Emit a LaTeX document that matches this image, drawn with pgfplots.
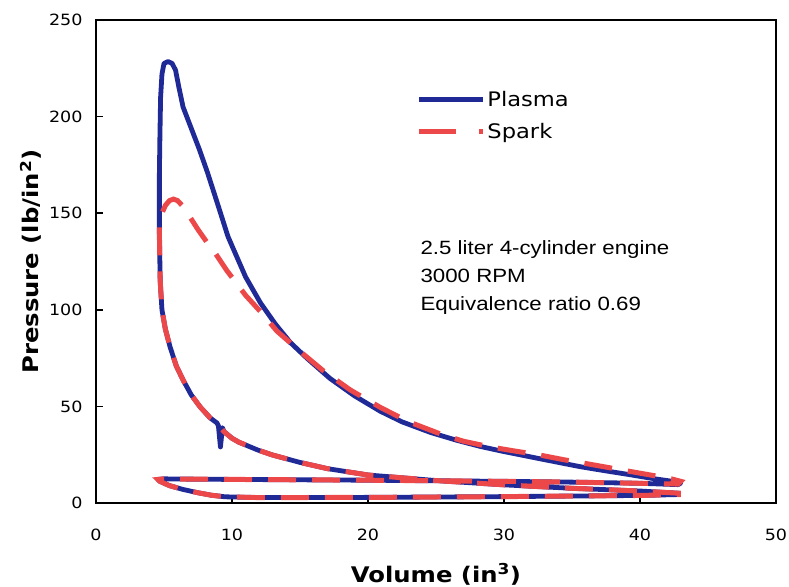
\documentclass[border=0pt]{standalone}
\usepackage{fontspec}
\setmainfont{DejaVu Sans}[FakeStretch=1.13]
\newfontfamily\arialf{Liberation Sans}[FakeStretch=1.16]
\usepackage{pgfplots}
\pgfplotsset{compat=1.18}
\usetikzlibrary{calc}
\definecolor{plasmablue}{RGB}{32,42,150}
\definecolor{sparkred}{RGB}{236,72,74}
\begin{document}
\begin{tikzpicture}
\begin{axis}[
  name=ax,
  scale only axis,
  width=680pt, height=483pt,
  xmin=0, xmax=50, ymin=0, ymax=250,
  xtick={0,10,...,50}, ytick={0,50,...,250},
  tick pos=left, tick align=inside,
  major tick length=7pt,
  axis line style={line width=2.6pt, black},
  every tick/.style={line width=1.6pt, black},
  /pgf/number format/assume math mode=true,
  ticklabel style={font=\fontsize{15.5}{15.5}\selectfont},
  xticklabel style={yshift=-22pt},
  yticklabel style={xshift=-10pt},
  xlabel={\textbf{Volume (in\textsuperscript{3})}},
  ylabel={\textbf{Pressure (lb/in\textsuperscript{2})}},
  label style={font=\fontsize{21.5}{23}\selectfont},
  xlabel style={at={(axis description cs:0.5,-0.1636)}, anchor=base},
  ylabel style={at={(axis description cs:-0.084,0.5)}, anchor=base, rotate=0},
  legend image code/.code={\draw[#1] (0pt,0pt) -- (64pt,0pt);},
  legend style={at={(axis description cs:0.468,0.862)}, anchor=north west,
    draw=none, fill=none, font=\fontsize{20}{22}\selectfont,
    row sep=12pt, inner sep=2pt},
  legend cell align=left,
]
\addplot[plasmablue, line width=4.8pt, line join=round, forget plot] coordinates {
(43.0,5.0) (40,6.2) (35,7.6) (30,9.4) (25,11.6) (20,14.5) (17,17.8) (15,21)
(13,24.8) (11.9,27.4) (10.5,31.5) (10,33.5) (9.4,37) (9.3,39) (9.15,29) (9.0,40)
(8.9,41.4) (8.4,44) (7.66,49.7) (7,56) (6.4,63.7) (5.9,71) (5.45,80.7) (5.1,90)
(4.85,100) (4.72,115) (4.66,140) (4.66,170) (4.7,190) (4.75,210) (4.85,222)
(5.0,227.5) (5.3,228.5) (5.6,227.5) (5.85,224) (6.1,215) (6.4,205) (7.0,194)
(7.6,183) (8.2,171) (9.0,153.5) (9.7,138) (10.1,131.5) (11,117) (12.1,103.5)
(13.2,92.5) (14.3,83) (15.5,75) (17.2,64.5) (19,55.5) (20.9,47.5) (22.5,42)
(24.6,36.5) (26.5,32.5) (28.3,29.2) (30,26.6) (32,23.8) (34,21) (35.6,18.8)
(37.5,16.6) (39.3,14.6) (41,12.6) (42.4,11.2) (43,10.3) (42.8,9.5) (40,10.2)
(35,10.8) (30,11.2) (25,11.5) (20,11.8) (15,12) (10,12.2) (6,12.4) (5,12.5)
(4.55,12.2) (4.7,11.2) (5.4,9) (6.4,7) (7.5,5.3) (8.5,4) (9.5,3.2) (12,2.8)
(20,2.9) (30,3.3) (40,3.9) (43,4.4)
};
\addplot[sparkred, line width=5pt, dash pattern=on 28pt off 16pt, forget plot] coordinates {
(43.0,5.0) (40,6.2) (35,7.6) (30,9.4) (25,11.6) (20,14.5) (17,17.8) (15,21)
(13,24.8) (11.9,27.4) (10.5,31.5) (10,33.5) (9.4,37) (8.9,41.4) (8.4,44)
(7.66,49.7) (7,56) (6.4,63.7) (5.9,71) (5.45,80.7) (5.1,90) (4.85,100)
(4.72,115) (4.66,140) (4.68,145) (4.85,150) (5.1,154) (5.4,156.5) (5.7,157.3)
(6.0,156.5) (6.4,153.5) (7.0,147) (7.5,141.5) (8.2,134.5) (8.8,129) (9.6,120.5)
(11,107.5) (12.1,99) (13.3,89) (15,78.5) (16.7,68.5) (18.7,58.5) (20.9,49.5)
(23,42) (25.3,35.8) (27,32) (29,29) (30.7,27) (32.5,25) (34.4,22.4) (36.2,20.2)
(37.8,18.2) (39.3,16.3) (41,14.2) (42.3,12.5) (43,11.2) (42.8,9.8) (40,10.2)
(35,10.8) (30,11.2) (25,11.5) (20,11.8) (15,12) (10,12.2) (6,12.4) (5,12.5)
(4.55,12.2) (4.7,11.2) (5.4,9) (6.4,7) (7.5,5.3) (8.5,4) (9.5,3.2) (12,2.8)
(20,2.9) (30,3.3) (40,3.9) (43,4.4)
};
\addlegendimage{plasmablue, line width=4.8pt}
\addlegendentry{Plasma}
\addlegendimage{sparkred, line width=5pt, dash pattern=on 37pt off 23pt}
\addlegendentry{Spark}
\node[anchor=base west, inner sep=0pt, font=\arialf\fontsize{19.2}{24}\selectfont] at (axis cs:23.85,128.4) {2.5 liter 4-cylinder engine};
\node[anchor=base west, inner sep=0pt, font=\arialf\fontsize{19.2}{24}\selectfont] at (axis cs:23.85,113.9) {3000 RPM};
\node[anchor=base west, inner sep=0pt, font=\arialf\fontsize{19.2}{24}\selectfont] at (axis cs:23.85,99.4) {Equivalence ratio 0.69};
\end{axis}
\pgfresetboundingbox
\path ($(ax.south west)+(-96pt,-84pt)$) rectangle ($(ax.north east)+(13pt,20pt)$);
\end{tikzpicture}
\end{document}
